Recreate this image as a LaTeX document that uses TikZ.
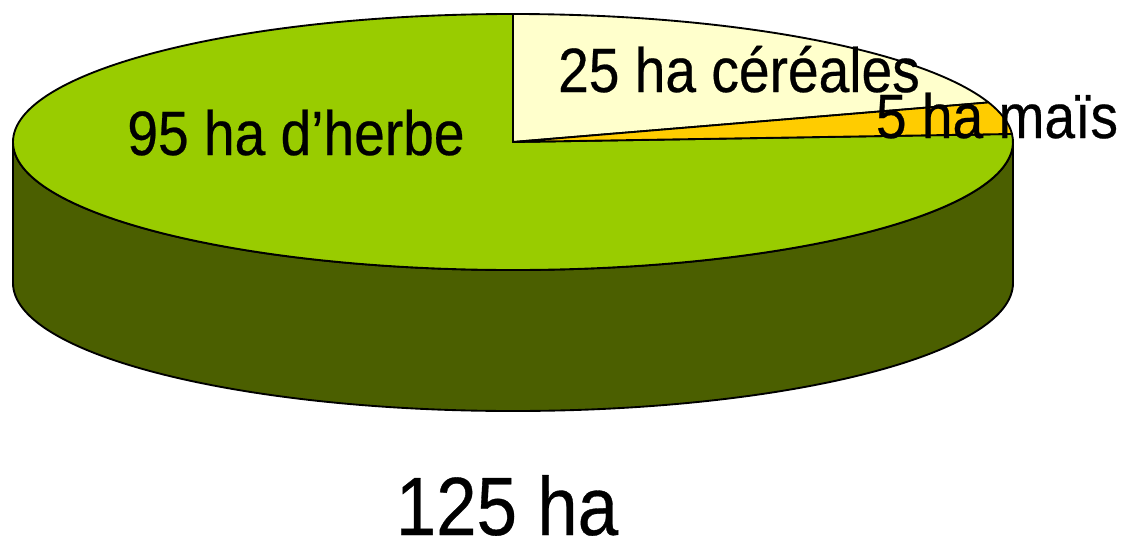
\documentclass[tikz,border=0pt]{standalone}
\usepackage{fontspec}
\setmainfont[FakeStretch=0.88, FakeBold=0.4]{Liberation Sans}

\definecolor{grass}{RGB}{153,204,0}
\definecolor{grassside}{RGB}{75,95,0}
\definecolor{cereal}{RGB}{255,255,204}
\definecolor{maize}{RGB}{255,204,0}

\begin{document}
\begin{tikzpicture} [x = 0.75pt, y = 0.75pt, line width = 1.4pt, line join = round,
    slicetext/.style = {anchor = base, inner sep = 0pt, font = \fontsize{47}{50}\selectfont}]

\newcommand{\pierx}{500}
\newcommand{\piery}{128}
\newcommand{\pieh}{141}

\useasboundingbox (-513,-405) rectangle (608,142);

\coordinate (centre) at (0,0);
\coordinate (left) at (-\pierx,0);
\coordinate (right) at (\pierx,0);
\coordinate (top) at (0,\piery);
\coordinate (split) at ({\pierx*cos(18)},{\piery*sin(18)});

% side
\filldraw [fill = grassside] (left) -- ++(0,-\pieh)
    arc [start angle = 180, end angle = 360, x radius = \pierx, y radius = \piery]
    -- (right)
    arc [start angle = 0, end angle = -180, x radius = \pierx, y radius = \piery]
    -- cycle;

% herbe
\filldraw [fill = grass] (centre) -- (top)
    arc [start angle = 90, end angle = 363.6, x radius = \pierx, y radius = \piery]
    -- cycle;

% cereales
\filldraw [fill = cereal] (centre) -- (top)
    arc [start angle = 90, end angle = 18, x radius = \pierx, y radius = \piery]
    -- cycle;

% mais
\filldraw [fill = maize] (centre) -- (split)
    arc [start angle = 18, end angle = 3.6, x radius = \pierx, y radius = \piery]
    -- cycle;

% labels
\node (herbe) [slicetext] at (-217,-13) {95 ha d’herbe};
\node (cereales) [slicetext] at (226,50) {25 ha céréales};
\node (mais) [slicetext] at (484,4) {5 ha maïs};

% total
\node (total) [slicetext, font = \fontsize{62}{66}\selectfont] at (-6,-393) {125 ha};

\end{tikzpicture}
\end{document}
